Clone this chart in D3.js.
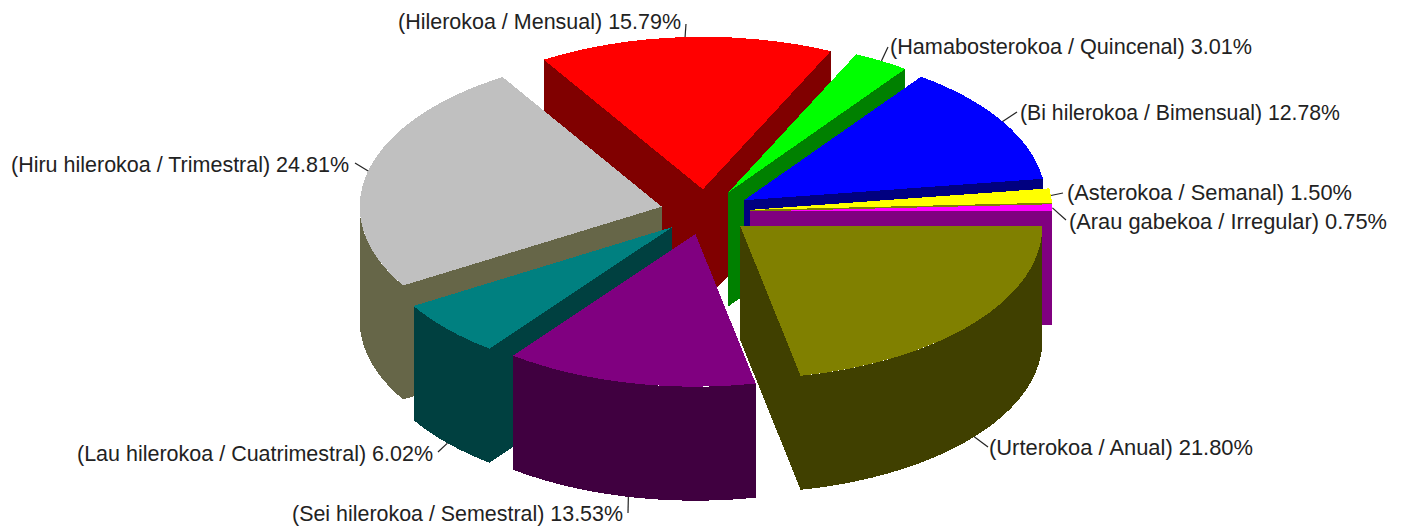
<!DOCTYPE html>
<html>
<head>
<meta charset="utf-8">
<script src="https://cdn.jsdelivr.net/npm/d3@7"></script>
<style>
  body { margin: 0; background: #fff; }
  text { font-family: "Liberation Sans", Arial, sans-serif; font-size: 21.4px; fill: #222; }
</style>
</head>
<body>
<div id="chart"></div>
<script>
const categories = [
  '(Urterokoa / Anual)',
  '(Sei hilerokoa / Semestral)',
  '(Lau hilerokoa / Cuatrimestral)',
  '(Hiru hilerokoa / Trimestral)',
  '(Hilerokoa / Mensual)',
  '(Hamabosterokoa / Quincenal)',
  '(Bi hilerokoa / Bimensual)',
  '(Asterokoa / Semanal)',
  '(Arau gabekoa / Irregular)'
]
const values = [21.80, 13.53, 6.02, 24.81, 15.79, 3.01, 12.78, 1.50, 0.75]
const topColors = ['#808000', '#800080', '#008080', '#c0c0c0', '#ff0000', '#00ff00', '#0000ff', '#ffff00', '#ff00ff']
const sideColors = ['#404000', '#400040', '#004040', '#666648', '#800000', '#008000', '#000080', '#808000', '#800080']

// back slices first so the front ones paint over them
const drawOrder = [4, 5, 6, 7, 8, 3, 2, 0, 1]

// label placement: end of the leader line, text x/y, anchor and text width
const labelLayout = [
  { lx: 988, ly: 447, tx: 989, ty: 455, anchor: 'start', w: 264 },
  { lx: 628, ly: 513, tx: 623, ty: 521, anchor: 'end', w: 331 },
  { lx: 438, ly: 452, tx: 433, ty: 461, anchor: 'end', w: 356 },
  { lx: 355, ly: 163, tx: 349, ty: 172, anchor: 'end', w: 338 },
  { lx: 686, ly: 24, tx: 681, ty: 29, anchor: 'end', w: 283 },
  { lx: 888, ly: 47, tx: 890, ty: 54, anchor: 'start', w: 362 },
  { lx: 1017, ly: 112, tx: 1020, ty: 120, anchor: 'start', w: 320 },
  { lx: 1063, ly: 193, tx: 1067, ty: 200, anchor: 'start', w: 285 },
  { lx: 1066, ly: 220, tx: 1069, ty: 229, anchor: 'start', w: 318 }
]

const width = 1403
const height = 526
const center = { x: 705.5, y: 212 }
const rx = 302
const squash = 0.505
const ry = rx * squash
const depth = 114
const explode = 45

const svg = d3.select('#chart').append('svg')
  .attr('width', width)
  .attr('height', height)
  .style('display', 'block')

// pie starts at east and runs clockwise, d3 angle 0 is north
const pie = d3.pie().sort(null).startAngle(Math.PI / 2).endAngle(Math.PI * 2.5)
const arcs = pie(values)
const arc = d3.arc().innerRadius(0).outerRadius(rx)
const line = d3.line()

const screenAngle = a => a - Math.PI / 2

arcs.forEach(d => {
  d.mid = screenAngle((d.startAngle + d.endAngle) / 2)
  d.cx = center.x + explode * Math.cos(d.mid)
  d.cy = center.y + explode * squash * Math.sin(d.mid)
})

const rim = (d, t) => [d.cx + rx * Math.cos(t), d.cy + ry * Math.sin(t)]

function radialWall (d, t) {
  const p = rim(d, t)
  return line([[d.cx, d.cy], p, [p[0], p[1] + depth], [d.cx, d.cy + depth]]) + 'Z'
}

function outerWall (d) {
  // only the part in the front half of the ellipse can be seen
  const a0 = Math.max(screenAngle(d.startAngle), 0)
  const a1 = Math.min(screenAngle(d.endAngle), Math.PI)
  if (a1 <= a0) return null
  const ts = d3.range(0, 61).map(i => a0 + (a1 - a0) * i / 60)
  const upper = ts.map(t => rim(d, t))
  const lower = upper.map(p => [p[0], p[1] + depth]).reverse()
  return line(upper.concat(lower)) + 'Z'
}

const slices = svg.append('g').attr('shape-rendering', 'crispEdges')

drawOrder.forEach(i => {
  const d = arcs[i]
  const g = slices.append('g')
  g.append('path').attr('d', radialWall(d, screenAngle(d.startAngle))).attr('fill', sideColors[i])
  g.append('path').attr('d', radialWall(d, screenAngle(d.endAngle))).attr('fill', sideColors[i])
  const wall = outerWall(d)
  if (wall) g.append('path').attr('d', wall).attr('fill', sideColors[i])
  g.append('path')
    .attr('d', arc(d))
    .attr('transform', `translate(${d.cx},${d.cy}) scale(1,${squash})`)
    .attr('fill', topColors[i])
})

// leader lines and labels
const labels = svg.append('g')
arcs.forEach((d, i) => {
  const l = labelLayout[i]
  const p = rim(d, d.mid)
  const y0 = Math.sin(d.mid) > 0 ? p[1] + depth : p[1]
  labels.append('line')
    .attr('x1', p[0]).attr('y1', y0)
    .attr('x2', l.lx).attr('y2', l.ly)
    .attr('stroke', '#222')
    .attr('stroke-width', 1.2)
  labels.append('text')
    .attr('x', l.tx)
    .attr('y', l.ty)
    .attr('text-anchor', l.anchor)
    .attr('textLength', l.w)
    .attr('lengthAdjust', 'spacingAndGlyphs')
    .text(`${categories[i]} ${values[i].toFixed(2)}%`)
})
</script>
</body>
</html>
